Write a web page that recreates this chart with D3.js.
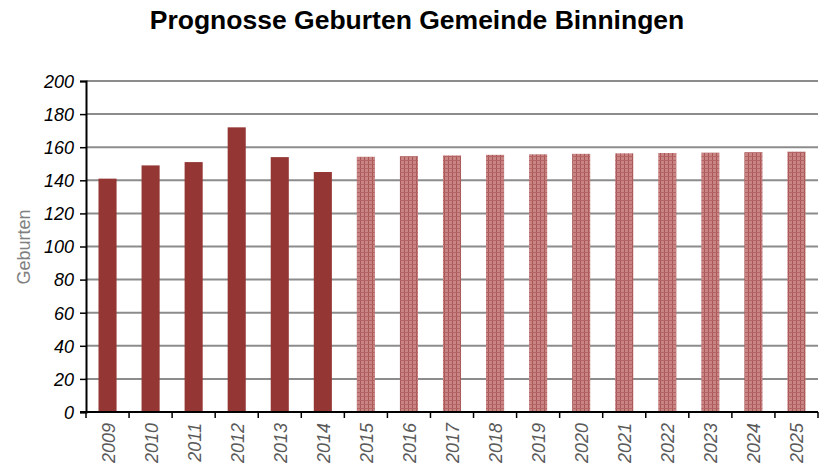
<!DOCTYPE html>
<html><head><meta charset="utf-8">
<script src="https://cdn.jsdelivr.net/npm/d3@7"></script>
<style>body{margin:0;background:#fff}</style>
</head><body>
<svg id="c" width="820" height="469"></svg>
<script>
const years = ["2009","2010","2011","2012","2013","2014","2015","2016","2017","2018","2019","2020","2021","2022","2023","2024","2025"];
const births = [141,149,151,172,154,145,154.2,154.6,155,155.4,155.7,156,156.3,156.5,156.7,157,157.3];
const forecast = [false,false,false,false,false,false,true,true,true,true,true,true,true,true,true,true,true];
const yTicks = [0,20,40,60,80,100,120,140,160,180,200];

const svg = d3.select("#c");
const m = {l:86, r:818, t:81, b:412};
const FONT = "Liberation Sans, Arial, sans-serif";
const defs = svg.append("defs");
const pat = defs.append("pattern").attr("id","hatch").attr("patternUnits","userSpaceOnUse").attr("width",4).attr("height",4);
pat.append("rect").attr("width",4).attr("height",4).attr("fill","#c98484");
pat.append("rect").attr("x",0).attr("width",1).attr("height",4).attr("fill","#a85656");
pat.append("rect").attr("y",0).attr("width",4).attr("height",1).attr("fill","#b46464");

const x = d3.scaleBand().domain(years).range([m.l, m.r]).paddingInner(0.58).paddingOuter(0.29);
const y = d3.scaleLinear().domain([0,200]).range([m.b, m.t]);

svg.append("text").attr("x",417).attr("y",29).attr("text-anchor","middle")
  .attr("font-family",FONT).attr("font-weight","bold").attr("font-size",26.5)
  .text("Prognosse Geburten Gemeinde Binningen");

// gridlines
svg.append("g").selectAll("line").data(yTicks.filter(d=>d>0)).join("line")
  .attr("x1",m.l).attr("x2",m.r).attr("y1",d=>y(d)).attr("y2",d=>y(d))
  .attr("stroke","#8c8c8c").attr("stroke-width",2);

// bars
svg.append("g").selectAll("rect").data(years).join("rect")
  .attr("x",d=>x(d)).attr("width",x.bandwidth())
  .attr("y",(d,i)=>y(births[i])).attr("height",(d,i)=>y(0)-y(births[i]))
  .attr("fill",(d,i)=>forecast[i]?"url(#hatch)":"#943634");

// y axis
const ya = svg.append("g").attr("transform",`translate(${m.l},0)`)
  .call(d3.axisLeft(y).tickValues(yTicks).tickSize(6).tickPadding(6));
ya.select(".domain").attr("stroke","#000").attr("stroke-width",2);
ya.selectAll(".tick line").attr("stroke","#000").attr("stroke-width",1.5);
ya.selectAll("text").attr("font-family",FONT).attr("font-size",18).attr("font-style","italic").attr("fill","#000").attr("dy","0.35em");

// x axis
const xa = svg.append("g").attr("transform",`translate(0,${m.b})`);
xa.append("line").attr("x1",m.l-6).attr("x2",m.r).attr("stroke","#000").attr("stroke-width",2);
const step = x.step();
const bounds = d3.range(years.length+1).map(i=>m.l+i*step);
xa.selectAll("line.t").data(bounds).join("line").attr("class","t")
  .attr("x1",d=>d).attr("x2",d=>d).attr("y1",0).attr("y2",6).attr("stroke","#000").attr("stroke-width",1.5);
xa.selectAll("text").data(years).join("text")
  .attr("transform",d=>`translate(${x(d)+x.bandwidth()/2+7},${11}) rotate(-90)`)
  .attr("text-anchor","end").attr("font-family",FONT)
  .attr("font-size",18).attr("font-style","italic").attr("fill","#595959").text(d=>d);

// y label
svg.append("text").attr("transform","translate(30,247) rotate(-90)").attr("text-anchor","middle")
  .attr("font-family",FONT).attr("font-size",18).attr("fill","#808080").text("Geburten");
</script>
</body></html>
